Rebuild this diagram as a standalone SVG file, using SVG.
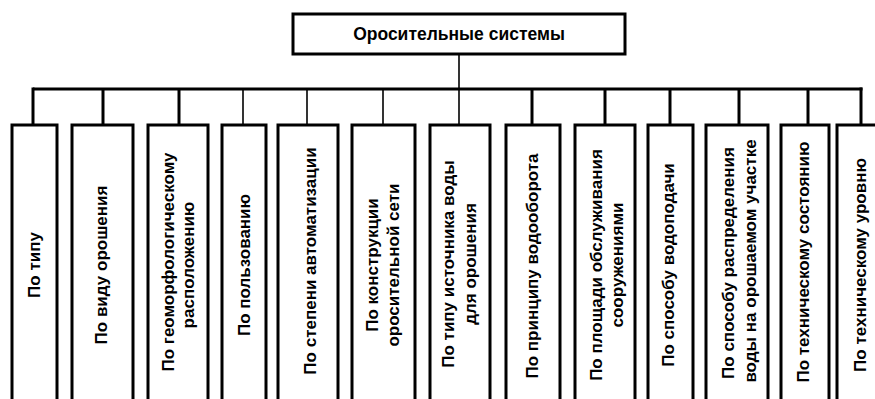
<svg xmlns="http://www.w3.org/2000/svg" width="875" height="399" viewBox="0 0 875 399">
<style>
.box{fill:#fff;stroke:#000;stroke-width:3}
.lbl{font-family:"Liberation Sans",Arial,sans-serif;font-weight:bold;font-size:17px;fill:#000;text-anchor:middle}
.top{font-size:17.5px}
.bus{stroke:#000;stroke-width:3;fill:none}
.thin{stroke:#000;stroke-width:1.6;fill:none}
</style>
<rect width="875" height="399" fill="#fff"/>
<g id="connectors">
<line class="thin" x1="459" y1="54" x2="459" y2="89"/>
<line class="bus" x1="33" y1="89" x2="862.5" y2="89"/>
<line class="bus" x1="33" y1="87.5" x2="33" y2="125"/>
<line class="bus" x1="103" y1="89" x2="103" y2="125"/>
<line class="bus" x1="179" y1="89" x2="179" y2="125"/>
<line class="thin" x1="243" y1="89" x2="243" y2="125"/>
<line class="thin" x1="307" y1="89" x2="307" y2="125"/>
<line class="thin" x1="383" y1="89" x2="383" y2="125"/>
<line class="thin" x1="459" y1="89" x2="459" y2="125"/>
<line class="bus" x1="532" y1="89" x2="532" y2="125"/>
<line class="bus" x1="605" y1="89" x2="605" y2="125"/>
<line class="bus" x1="670" y1="89" x2="670" y2="125"/>
<line class="bus" x1="739" y1="89" x2="739" y2="125"/>
<line class="bus" x1="808" y1="89" x2="808" y2="125"/>
<line class="bus" x1="861" y1="87.5" x2="861" y2="125"/>
</g>
<g id="root">
<rect class="box" x="293" y="14" width="332" height="40"/>
<text class="lbl top" x="459" y="40">Оросительные системы</text>
</g>
<g id="n1">
<rect class="box" x="12" y="125" width="45" height="290"/>
<text class="lbl" transform="translate(40,265) rotate(-90)">По типу</text>
</g>
<g id="n2">
<rect class="box" x="72" y="125" width="61" height="290"/>
<text class="lbl" transform="translate(107,265) rotate(-90)">По виду орошения</text>
</g>
<g id="n3">
<rect class="box" x="148" y="125" width="60" height="290"/>
<text class="lbl" transform="translate(174,262) rotate(-90)">По геоморфологическому</text>
<text class="lbl" transform="translate(194,265) rotate(-90)">расположению</text>
</g>
<g id="n4">
<rect class="box" x="222" y="125" width="44" height="290"/>
<text class="lbl" transform="translate(250,265) rotate(-90)">По пользованию</text>
</g>
<g id="n5">
<rect class="box" x="278" y="125" width="60" height="290"/>
<text class="lbl" transform="translate(316,261) rotate(-90)">По степени автоматизации</text>
</g>
<g id="n6">
<rect class="box" x="352" y="125" width="63" height="290"/>
<text class="lbl" transform="translate(378,265) rotate(-90)">По конструкции</text>
<text class="lbl" transform="translate(399,265) rotate(-90)">оросительной сети</text>
</g>
<g id="n7">
<rect class="box" x="430" y="125" width="60" height="290"/>
<text class="lbl" transform="translate(454,264) rotate(-90)">По типу источника воды</text>
<text class="lbl" transform="translate(476,264) rotate(-90)">для орошения</text>
</g>
<g id="n8">
<rect class="box" x="506" y="125" width="54" height="290"/>
<text class="lbl" transform="translate(538,266) rotate(-90)">По принципу водооборота</text>
</g>
<g id="n9">
<rect class="box" x="575" y="125" width="60" height="290"/>
<text class="lbl" transform="translate(602,265) rotate(-90)">По площади обслуживания</text>
<text class="lbl" transform="translate(623,265) rotate(-90)">сооружениями</text>
</g>
<g id="n10">
<rect class="box" x="648" y="125" width="45" height="290"/>
<text class="lbl" transform="translate(674,265) rotate(-90)">По способу водоподачи</text>
</g>
<g id="n11">
<rect class="box" x="706" y="125" width="62" height="290"/>
<text class="lbl" transform="translate(734,263) rotate(-90)">По способу распределения</text>
<text class="lbl" transform="translate(756,261) rotate(-90)">воды на орошаемом участке</text>
</g>
<g id="n12">
<rect class="box" x="781" y="125" width="48" height="290"/>
<text class="lbl" transform="translate(809,262) rotate(-90)">По техническому состоянию</text>
</g>
<g id="n13">
<rect class="box" x="837" y="125" width="45" height="290"/>
<text class="lbl" transform="translate(866,265) rotate(-90)">По техническому уровню</text>
</g>
</svg>
